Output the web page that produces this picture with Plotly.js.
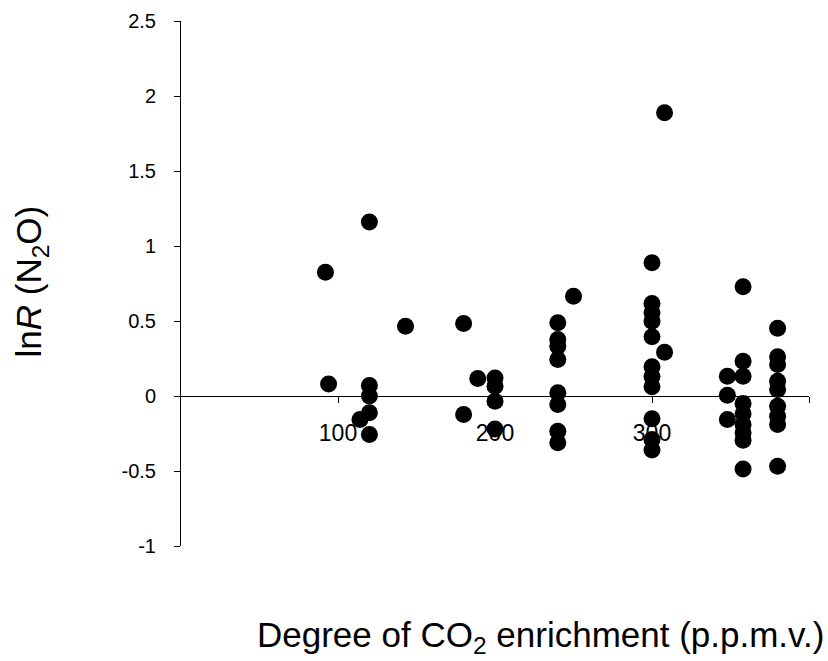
<!DOCTYPE html>
<html>
<head>
<meta charset="utf-8">
<script src="https://cdn.plot.ly/plotly-3.0.1.min.js"></script>
<style>html,body{margin:0;padding:0;background:#fff;}#chart{width:828px;height:661px;}</style>
</head>
<body>
<div id="chart"></div>
<script>
// Degree of CO2 enrichment (p.p.m.v.)
var co2Enrichment = [
  92, 94, 114, 120, 120, 120, 120, 120, 143,
  180, 180, 189, 200, 200, 200, 200,
  240, 240, 240, 240, 240, 240, 240, 240, 250,
  300, 300, 300, 300, 300, 300, 300, 300, 300, 300, 300, 308, 308,
  348, 348, 348,
  358, 358, 358, 358, 358, 358, 358, 358, 358,
  380, 380, 380, 380, 380, 380, 380, 380, 380
];
// lnR (N2O)
var lnR = [
  0.825, 0.08, -0.157, 1.16, 0.07, 0.0, -0.112, -0.257, 0.465,
  0.483, -0.123, 0.117, 0.12, 0.065, -0.035, -0.22,
  0.488, 0.377, 0.332, 0.243, 0.021, -0.057, -0.235, -0.312, 0.665,
  0.888, 0.617, 0.555, 0.499, 0.395, 0.195, 0.13, 0.061, -0.152, -0.29, -0.36, 1.888, 0.292,
  0.132, 0.005, -0.157,
  0.728, 0.232, 0.132, -0.05, -0.118, -0.19, -0.245, -0.295, -0.487,
  0.452, 0.261, 0.21, 0.099, 0.043, -0.068, -0.135, -0.19, -0.468
];
var xTickVals = [100, 200, 300, 400];
var xTickText = ['100', '200', '300', '400'];
var yTickVals = [-1, -0.5, 0, 0.5, 1, 1.5, 2, 2.5];
var yTickText = ['-1', '-0.5', '0', '0.5', '1', '1.5', '2', '2.5'];
var xTitle = 'Degree of CO<sub>2</sub> enrichment (p.p.m.v.)';
var yTitle = 'ln<i>R</i> (N<sub>2</sub>O)';

var FONT = 'Arial, "Liberation Sans", sans-serif';
var yMin = -1, yMax = 2.5;

var trace = {
  type: 'scatter',
  mode: 'markers',
  x: co2Enrichment,
  y: lnR,
  marker: {color: '#000000', size: 17, line: {width: 0}},
  cliponaxis: false,
  hoverinfo: 'x+y'
};

var layout = {
  width: 828,
  height: 661,
  paper_bgcolor: '#ffffff',
  plot_bgcolor: '#ffffff',
  showlegend: false,
  margin: {l: 181, r: 19, t: 21, b: 115, pad: 0},
  font: {family: FONT, color: '#000000'},
  xaxis: {
    range: [0, 400],
    anchor: 'free',
    position: (0 - yMin) / (yMax - yMin),
    showgrid: false,
    zeroline: false,
    showline: true,
    linecolor: '#000000',
    linewidth: 1,
    ticks: 'outside',
    ticklen: 6,
    tickwidth: 1,
    tickcolor: '#000000',
    tickvals: xTickVals,
    ticktext: xTickText,
    tickfont: {family: FONT, size: 23, color: '#000000'},
    ticklabelstandoff: 10
  },
  yaxis: {
    range: [yMin, yMax],
    showgrid: false,
    zeroline: false,
    showline: true,
    linecolor: '#000000',
    linewidth: 1,
    ticks: 'outside',
    ticklen: 6,
    tickwidth: 1,
    tickcolor: '#000000',
    tickvals: yTickVals,
    ticktext: yTickText,
    tickfont: {family: FONT, size: 20, color: '#000000'},
    ticklabelstandoff: 14
  },
  annotations: [
    {
      text: xTitle, xref: 'paper', yref: 'paper',
      x: 0.5717, y: -0.1733, xanchor: 'center', yanchor: 'middle',
      showarrow: false, font: {family: FONT, size: 35, color: '#000000'}
    },
    {
      text: yTitle, xref: 'paper', yref: 'paper',
      x: -0.2389, y: 0.5038, xanchor: 'center', yanchor: 'middle',
      textangle: -90,
      showarrow: false, font: {family: FONT, size: 35, color: '#000000'}
    }
  ]
};

Plotly.newPlot('chart', [trace], layout, {displayModeBar: false, staticPlot: true});
</script>
</body>
</html>
